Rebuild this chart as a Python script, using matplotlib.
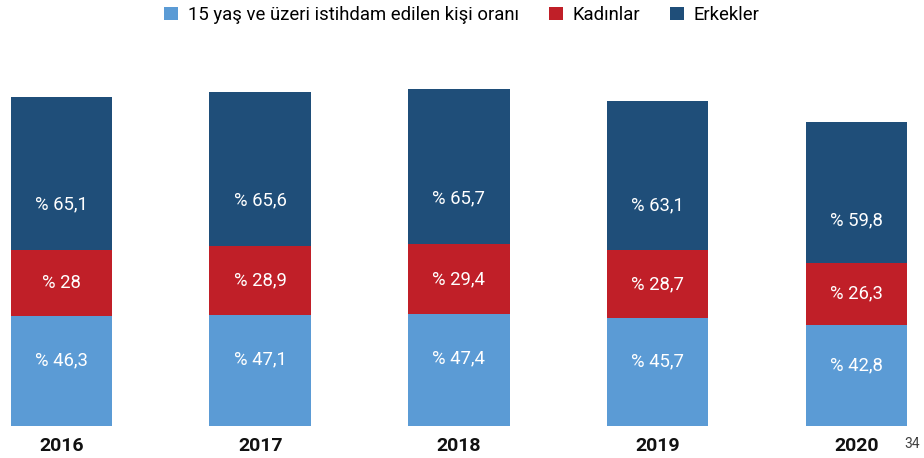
import matplotlib.pyplot as plt
from matplotlib.patches import Patch

plt.rcParams['font.family'] = ['Roboto', 'DejaVu Sans']

# veriler
years = ['2016', '2017', '2018', '2019', '2020']
toplam = [46.3, 47.1, 47.4, 45.7, 42.8]
kadin = [28, 28.9, 29.4, 28.7, 26.3]
erkek = [65.1, 65.6, 65.7, 63.1, 59.8]
series_names = ['15 yaş ve üzeri istihdam edilen kişi oranı', 'Kadınlar', 'Erkekler']

colors = ['#5B9BD5', '#C01F28', '#1F4E79']
label_frac = [0.6, 0.5, 0.3]  # etiketin segment içindeki yeri

fig = plt.figure(figsize=(9.24, 4.58), dpi=100)
ax = fig.add_axes([0, 0, 1, 1])

x = list(range(len(years)))
bottom = [0] * len(years)
for vals, col, frac in zip([toplam, kadin, erkek], colors, label_frac):
    ax.bar(x, vals, bottom=bottom, width=0.51, color=col, linewidth=0)
    for xi, b, v in zip(x, bottom, vals):
        txt = '% ' + f'{v:g}'.replace('.', ',')
        ax.text(xi, b + v * frac, txt, ha='center', va='center',
                color='white', fontsize=13.3)
    bottom = [b + v for b, v in zip(bottom, vals)]

for xi, y in zip(x, years):
    ax.text(xi, -8.5, y, ha='center', va='center', fontsize=14,
            fontweight='bold', color='#111111')

ax.set_xlim(-0.309, 4.34)
ax.set_ylim(-13.7, 180.4)
ax.axis('off')

handles = [Patch(facecolor=c, edgecolor='none') for c in colors]
fig.legend(handles, series_names, loc='center', bbox_to_anchor=(0.5, 0.967),
           ncol=3, frameon=False, fontsize=13.3, handlelength=0.75,
           handleheight=0.75, handletextpad=0.55, columnspacing=1.6)

fig.text(0.996, 0.03, '34', ha='right', va='center', fontsize=10, color='#404040')

plt.savefig('out.png', dpi=100)
